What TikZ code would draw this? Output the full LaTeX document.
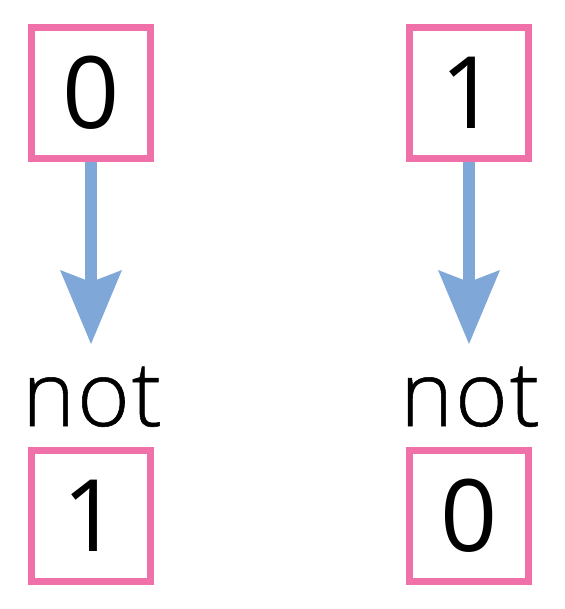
\documentclass[tikz,border=0pt]{standalone}
\usepackage{fontspec}
\setmainfont{Open Sans}
\newfontfamily\notfont{Open Sans Light}[FakeBold=0.6,LetterSpace=2.2]
\usetikzlibrary{arrows.meta}
\definecolor{boxpink}{RGB}{240,112,170}
\definecolor{arrowblue}{RGB}{127,168,216}
\begin{document}
\begin{tikzpicture}[x=1pt,y=-1pt,
  valbox/.style={draw=boxpink, line width=7pt, minimum width=119.5pt, minimum height=131pt, inner sep=0pt, font=\fontsize{100}{100}\selectfont},
  notlabel/.style={anchor=base, inner sep=0pt, font=\notfont\fontsize{90}{90}\selectfont},
  flow/.style={draw=arrowblue, line width=12pt, -{Stealth[length=74pt,width=62pt,inset=12pt,line width=0pt]}}]
\useasboundingbox (0,0) rectangle (564,609);
\node[valbox] (a0) at (91,93) {0};
\node[valbox] (b0) at (469,93) {1};
\coordinate (ta) at (91,344);
\coordinate (tb) at (469,344);
\node[notlabel] (na) at (92,426) {not};
\node[notlabel] (nb) at (470,426) {not};
\node[valbox] (a1) at (91,515.5) {1};
\node[valbox] (b1) at (469,515.5) {0};
\draw[flow] (a0) -- (ta);
\draw[flow] (b0) -- (tb);
\end{tikzpicture}
\end{document}
